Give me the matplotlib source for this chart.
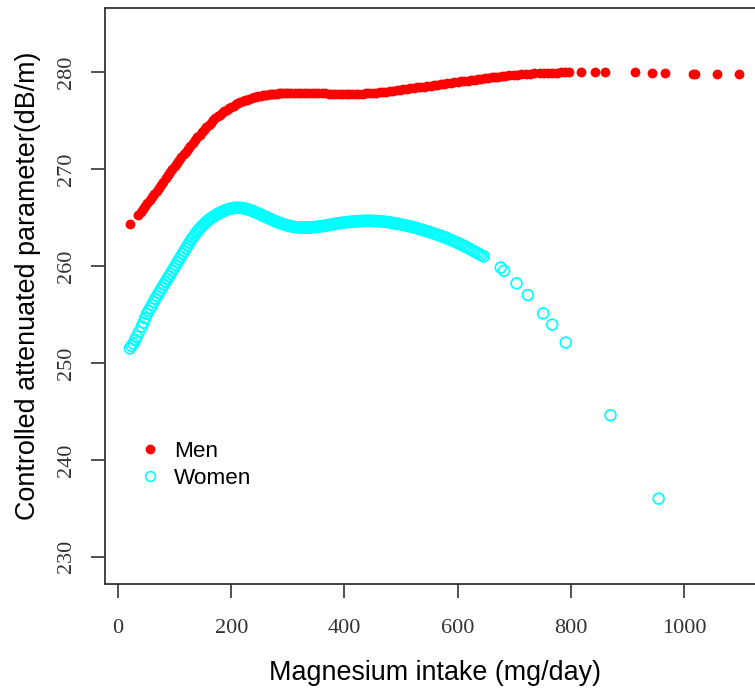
import numpy as np
import matplotlib
matplotlib.use("Agg")
import matplotlib.pyplot as plt
from matplotlib.lines import Line2D

# values (mg/day, dB/m)
men_x = [21,
         36, 40, 44, 48, 52, 56, 60, 64, 68, 72, 76, 80, 84, 88, 92, 96, 100, 104,
         108, 112, 116, 120, 124, 128, 132, 136, 140, 144, 148, 152, 156, 160, 164,
         168, 172, 176, 180, 184, 188, 192, 196, 200, 204, 208, 212, 216, 220, 224,
         228, 232, 236, 240, 244, 248, 252, 256, 260, 264, 268, 272, 276, 280, 284,
         288, 292, 296, 300,
         306, 312, 318, 324, 330, 336, 342, 348, 354, 360, 366, 372, 378, 384, 390,
         396, 402, 408, 414, 420, 426, 432, 438, 444, 450, 456, 462, 468, 474, 480,
         486, 492, 498, 504, 510, 516, 522, 528, 534, 540, 546, 552, 558, 564, 570,
         576, 582, 588, 594, 600, 606, 612, 618, 624, 630, 636, 642, 648, 654, 660,
         666, 672, 678, 684, 690,
         700, 705, 712, 720, 728, 735, 745, 752, 760, 767, 775, 782, 790, 797, 817,
         843, 861, 914, 943, 966, 1015, 1019, 1059, 1097]
men_y = [264.33,
         265.30, 265.60, 265.90, 266.20, 266.50, 266.80, 267.10, 267.42, 267.74,
         268.06, 268.38, 268.70, 269.02, 269.34, 269.66, 269.98, 270.29, 270.59,
         270.89, 271.19, 271.49, 271.79, 272.09, 272.38, 272.67, 272.96, 273.25,
         273.53, 273.80, 274.06, 274.31, 274.55, 274.78, 275.00, 275.21, 275.41,
         275.60, 275.78, 275.95, 276.11, 276.26, 276.40, 276.53, 276.65, 276.77,
         276.88, 276.98, 277.07, 277.16, 277.24, 277.31, 277.38, 277.44, 277.49,
         277.54, 277.58, 277.62, 277.66, 277.69, 277.72, 277.75, 277.77, 277.79,
         277.81, 277.83, 277.84, 277.85,
         277.86, 277.87, 277.88, 277.88, 277.87, 277.86, 277.85, 277.83, 277.82,
         277.80, 277.78, 277.77, 277.75, 277.74, 277.73, 277.73, 277.73, 277.73,
         277.73, 277.74, 277.75, 277.77, 277.79, 277.81, 277.84, 277.87, 277.90,
         277.94, 277.98, 278.02, 278.07, 278.12, 278.16, 278.21, 278.26, 278.30,
         278.35, 278.40, 278.45, 278.50, 278.55, 278.60, 278.64, 278.69, 278.74,
         278.79, 278.84, 278.88, 278.93, 278.97, 279.02, 279.06, 279.11, 279.15,
         279.20, 279.24, 279.29, 279.33, 279.38, 279.43, 279.48, 279.52, 279.57,
         279.61, 279.65,
         279.70, 279.72, 279.77, 279.80, 279.83, 279.85, 279.88, 279.90, 279.92,
         279.93, 279.94, 279.95, 279.97, 279.97, 280.00, 280.00, 280.00, 279.97,
         279.93, 279.93, 279.83, 279.82, 279.80, 279.76]

women_x = [21, 24, 27, 30, 33, 37, 42, 45, 48,
           51, 54, 57, 60, 63, 66, 69, 72, 75, 78, 81, 84, 87, 90, 93, 96, 99, 102,
           105, 108, 111, 114, 117, 120, 123, 126, 129, 132, 135, 138, 141, 144, 147,
           150, 153, 156, 159, 162, 165, 168, 171, 174, 177, 180, 183, 186, 189, 192,
           195, 198,
           201, 204, 207, 210, 213, 216, 219, 222, 225, 228, 231, 234, 237, 240, 243,
           246, 249, 252, 255, 258, 261, 264, 267, 270, 273, 276, 279, 282, 285, 288,
           291, 294, 297, 300, 303, 306, 309, 312, 315, 318, 321, 324, 327, 330, 333,
           336, 339, 342, 345, 348, 351, 354, 357, 360, 363, 366, 369, 372, 375, 378,
           381, 384, 387, 390, 393, 396, 399, 402, 405, 408, 411, 414, 417, 420, 423,
           426, 429, 432, 435, 438, 441, 444, 447, 450, 453, 456, 459, 462, 465, 468,
           471, 474, 477, 480, 483, 486, 489, 492, 495, 498,
           502, 506, 510, 514, 518, 522, 526, 530, 534, 538, 542, 546, 550, 554, 558,
           562, 566, 570, 574, 578, 582, 586, 590, 594, 598, 602, 606, 610, 614, 618,
           622, 626, 630, 634, 638, 642, 646,
           676, 682, 704, 724, 751, 767, 791, 870, 955]
women_y = [251.50, 251.75, 252.00, 252.35, 252.70, 253.20, 253.75, 254.15, 254.60,
           255.05, 255.35, 255.65, 255.95, 256.28, 256.60, 256.90, 257.19, 257.48,
           257.77, 258.06, 258.35, 258.64, 258.92, 259.20, 259.49, 259.78, 260.07,
           260.36, 260.65, 260.94, 261.23, 261.52, 261.81, 262.10, 262.38, 262.65,
           262.91, 263.16, 263.40, 263.62, 263.83, 264.02, 264.20, 264.37, 264.53,
           264.68, 264.82, 264.95, 265.07, 265.18, 265.29, 265.39, 265.48, 265.57,
           265.65, 265.72, 265.79, 265.85, 265.90,
           265.94, 265.97, 265.99, 266.00, 266.00, 265.99, 265.97, 265.94, 265.90,
           265.85, 265.80, 265.74, 265.67, 265.60, 265.53, 265.45, 265.37, 265.29,
           265.21, 265.13, 265.05, 264.97, 264.89, 264.81, 264.73, 264.65, 264.58,
           264.51, 264.44, 264.38, 264.32, 264.26, 264.21, 264.16, 264.12, 264.08,
           264.05, 264.02, 264.00, 263.98, 263.97, 263.96, 263.95, 263.95, 263.95,
           263.96, 263.97, 263.98, 264.00, 264.02, 264.04, 264.06, 264.08, 264.10,
           264.13, 264.16, 264.19, 264.22, 264.25, 264.28, 264.31, 264.34, 264.37,
           264.40, 264.42, 264.45, 264.47, 264.49, 264.51, 264.53, 264.55, 264.57,
           264.58, 264.60, 264.61, 264.62, 264.63, 264.64, 264.64, 264.65, 264.65,
           264.65, 264.65, 264.64, 264.64, 264.63, 264.62, 264.60, 264.59, 264.57,
           264.55, 264.53, 264.51, 264.48, 264.45, 264.42, 264.39, 264.36, 264.33,
           264.29,
           264.25, 264.20, 264.15, 264.10, 264.04, 263.98, 263.92, 263.85, 263.78,
           263.71, 263.64, 263.57, 263.49, 263.42, 263.34, 263.26, 263.18, 263.10,
           263.01, 262.92, 262.83, 262.73, 262.63, 262.53, 262.42, 262.31, 262.20,
           262.09, 261.97, 261.85, 261.73, 261.60, 261.47, 261.35, 261.22, 261.10,
           260.98,
           259.83, 259.50, 258.20, 257.00, 255.10, 253.95, 252.10, 244.60, 236.00]

x_ticks = [0, 200, 400, 600, 800, 1000]
y_ticks = [230, 240, 250, 260, 270, 280]

fig = plt.figure(figsize=(7.55, 6.93), dpi=100)
ax = fig.add_axes([0.1391, 0.1573, 0.8742, 0.8312])

ax.scatter(men_x, men_y, s=50, color="#ff0000", linewidths=0, zorder=3)
ax.scatter(women_x, women_y, s=60, facecolors="none", edgecolors="#00ffff",
           linewidths=1.25, zorder=3)

ax.set_xlim(-23, 1143)
ax.set_ylim(227.2, 286.6)
ax.set_xticks(x_ticks)
ax.set_yticks(y_ticks)

tick_font = {"family": "Liberation Serif", "size": 16}
ax.set_xticklabels([str(v) for v in x_ticks], fontdict=tick_font, color="#333333")
ax.set_yticklabels([str(v) for v in y_ticks], fontdict=tick_font, color="#333333",
                   rotation=90, va="center")
ax.tick_params(axis="both", direction="out", length=10, width=1.2, color="#333333")
ax.tick_params(axis="x", pad=15)
ax.tick_params(axis="y", pad=11)

for side in ["left", "bottom", "top"]:
    ax.spines[side].set_color("#333333")
    ax.spines[side].set_linewidth(1.3)
ax.spines["right"].set_visible(False)

fig.text(435 / 755, 1 - 673 / 693, "Magnesium intake (mg/day)", fontsize=19.4,
         family="Liberation Sans", ha="center", va="center")
fig.text(28 / 755, 1 - 286 / 693, "Controlled attenuated parameter(dB/m)",
         fontsize=19.4, family="Liberation Sans", ha="center", va="center",
         rotation=90)

handles = [
    Line2D([], [], linestyle="none", marker="o", markersize=6, color="#ff0000"),
    Line2D([], [], linestyle="none", marker="o", markersize=7, markerfacecolor="none",
           markeredgecolor="#00ffff", markeredgewidth=1.2),
]
ax.legend(handles, ["Men", "Women"], loc="upper left", bbox_to_anchor=(0.051, 0.249),
          frameon=False, borderpad=0, borderaxespad=0, handlelength=1.0,
          handletextpad=0.57, labelspacing=0.28,
          prop={"family": "Liberation Sans", "size": 16.2})

fig.savefig("out.png", dpi=100)
